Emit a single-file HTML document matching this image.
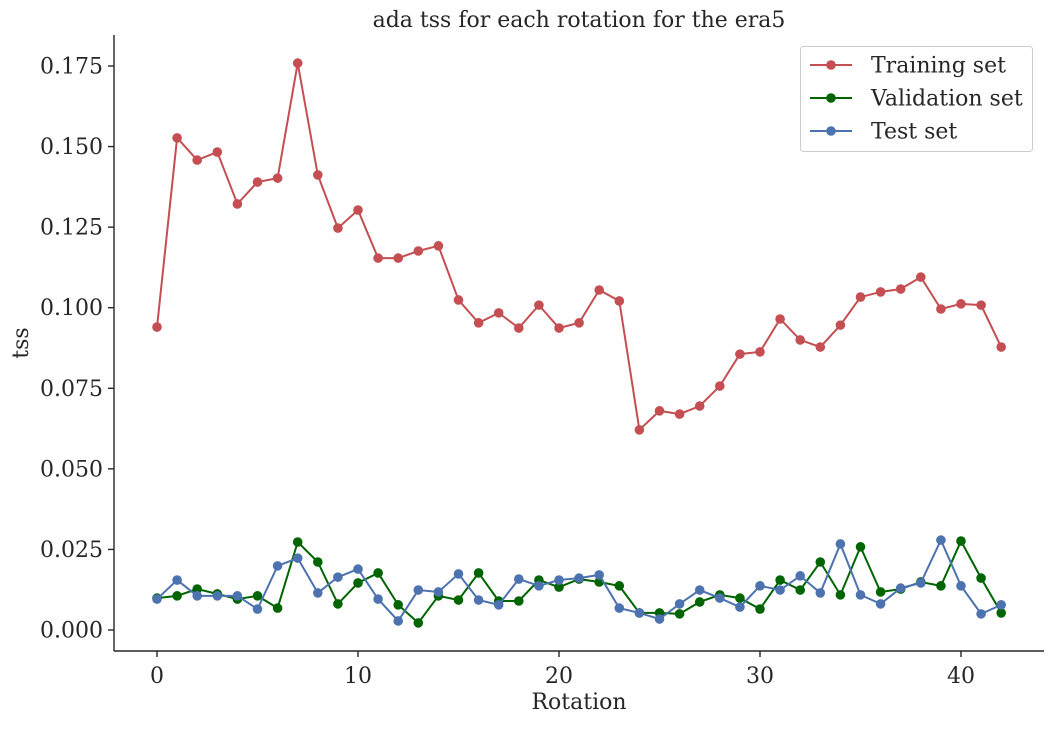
<!DOCTYPE html>
<html><head><meta charset="utf-8"><style>
body{margin:0;background:#fff;}
svg text{font-family:"DejaVu Serif","Liberation Serif",serif;fill:#262626;}
</style></head><body>
<svg id="chart" width="1054" height="724" xmlns="http://www.w3.org/2000/svg"></svg>
<script>
const rotations = Array.from({length:43},(_,i)=>i);
const trainingTss = [0.0940,0.1527,0.1458,0.1483,0.1322,0.1390,0.1402,0.1759,0.1412,0.1247,0.1303,0.1154,0.1154,0.1176,0.1192,0.1024,0.0953,0.0984,0.0937,0.1008,0.0937,0.0953,0.1055,0.1021,0.0621,0.0680,0.0670,0.0695,0.0757,0.0856,0.0863,0.0965,0.0900,0.0878,0.0946,0.1033,0.1049,0.1058,0.1095,0.0996,0.1012,0.1008,0.0878];
const validationTss = [0.0099,0.0106,0.0127,0.0112,0.0096,0.0106,0.0068,0.0273,0.0211,0.0081,0.0146,0.0177,0.0078,0.0022,0.0106,0.0093,0.0177,0.0090,0.0090,0.0155,0.0133,0.0158,0.0149,0.0137,0.0053,0.0053,0.0050,0.0087,0.0109,0.0099,0.0065,0.0155,0.0124,0.0211,0.0109,0.0258,0.0118,0.0127,0.0149,0.0137,0.0276,0.0161,0.0053];
const testTss = [0.0096,0.0155,0.0106,0.0106,0.0106,0.0065,0.0199,0.0223,0.0115,0.0164,0.0189,0.0096,0.0028,0.0124,0.0118,0.0174,0.0093,0.0078,0.0158,0.0137,0.0155,0.0161,0.0171,0.0068,0.0053,0.0034,0.0081,0.0124,0.0099,0.0071,0.0137,0.0124,0.0168,0.0115,0.0267,0.0109,0.0081,0.0130,0.0146,0.0279,0.0137,0.0050,0.0078];
const yTicks = [0,0.025,0.05,0.075,0.1,0.125,0.15,0.175];
const yTickLabels = ["0.000","0.025","0.050","0.075","0.100","0.125","0.150","0.175"];
const xTicks = [0,10,20,30,40];

const NS="http://www.w3.org/2000/svg";
const svg=document.getElementById('chart');
const X=v=>157+v*(961-157)/40;
const Y=v=>630-v*(630-66)/0.175;
function mk(tag,attrs,parent){const e=document.createElementNS(NS,tag);for(const k in attrs)e.setAttribute(k,attrs[k]);(parent||svg).appendChild(e);return e;}
function txt(s,attrs,name){const e=mk('text',attrs);e.textContent=s;

return e;}

let sp=mk('line',{x1:114,y1:35,x2:114,y2:651,stroke:'#262626','stroke-width':1.4});


sp=mk('line',{x1:114,y1:651,x2:1044,y2:651,stroke:'#262626','stroke-width':1.4});



yTicks.forEach((t,i)=>{const y=Y(t);
const l=mk('line',{x1:108,y1:y,x2:114,y2:y,stroke:'#262626','stroke-width':1.4});


txt(yTickLabels[i],{x:103,y:y+7.5,'text-anchor':'end','font-size':22},'y-tick-label');});
xTicks.forEach(t=>{const x=X(t);
const l=mk('line',{x1:x,y1:651,x2:x,y2:657,stroke:'#262626','stroke-width':1.4});


txt(String(t),{x:x,y:683,'text-anchor':'middle','font-size':22},'x-tick-label');});

txt('ada tss for each rotation for the era5',{x:579,y:27,'text-anchor':'middle','font-size':22},'chart-title');
txt('Rotation',{x:579,y:709,'text-anchor':'middle','font-size':22},'x-axis-title');
txt('tss',{x:28,y:343,'text-anchor':'middle','font-size':22,transform:'rotate(-90 28 343)'},'y-axis-title');

function series(vals,color,name){
const g=mk('g',{});


const p=mk('polyline',{points:vals.map((v,i)=>X(rotations[i])+','+Y(v)).join(' '),fill:'none',stroke:color,'stroke-width':2},g);


vals.forEach((v,i)=>{const c=mk('circle',{cx:X(rotations[i]),cy:Y(v),r:4.8,fill:color},g);

});}
series(trainingTss,'#c44e52','training-series');
series(validationTss,'#006400','validation-series');
series(testTss,'#4c72b0','test-series');

const lg=mk('rect',{x:800.5,y:46.5,width:232,height:105,rx:3,fill:'#fff',stroke:'#cccccc','stroke-width':1});


[['Training set','#c44e52'],['Validation set','#006400'],['Test set','#4c72b0']].forEach((e,i)=>{
const y=65+i*33;
const l=mk('line',{x1:810,y1:y,x2:852,y2:y,stroke:e[1],'stroke-width':2});


const c=mk('circle',{cx:831,cy:y,r:4.8,fill:e[1]});


txt(e[0],{x:871,y:y+7.5,'font-size':22},'legend-entry');});
</script>
</body></html>
